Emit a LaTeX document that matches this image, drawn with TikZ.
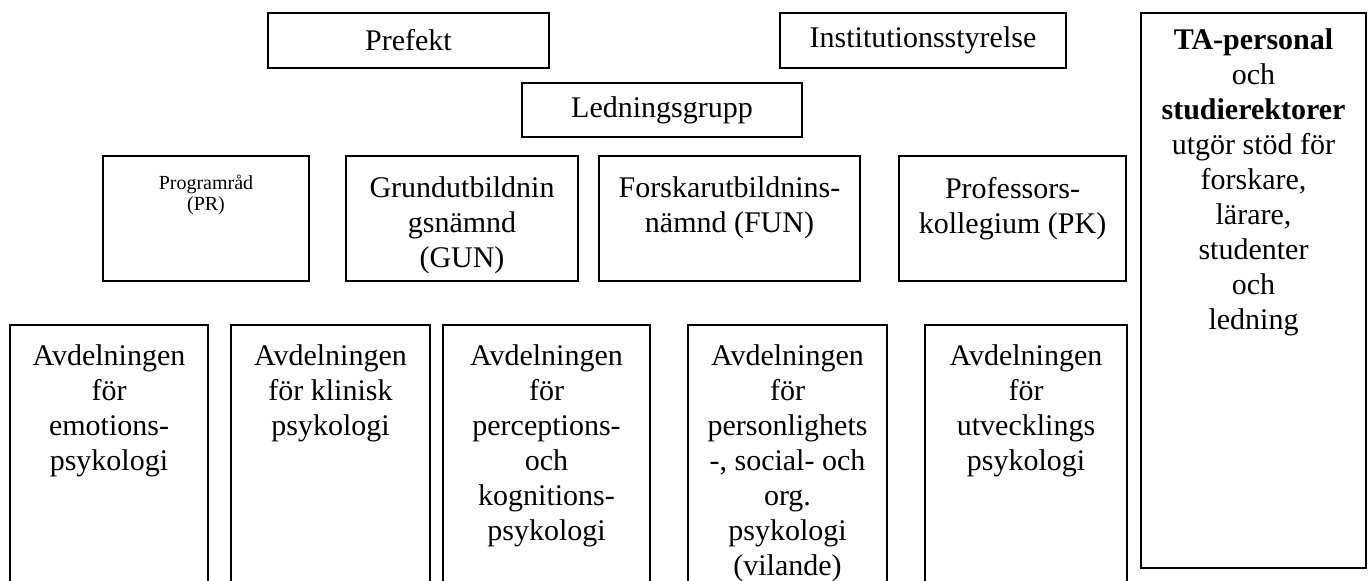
\documentclass[tikz,border=0pt]{standalone}
\usepackage{fontspec}
\setmainfont{Liberation Serif}
\usetikzlibrary{positioning,fit}
\tikzset{
  box/.style={draw, line width=0.7pt, inner sep=0pt},
  txt/.style={align=center, inner sep=0pt, font=\fontsize{12}{14}\selectfont},
  smalltxt/.style={align=center, inner sep=0pt, font=\fontsize{8}{8.5}\selectfont},
}
\begin{document}
\begin{tikzpicture}[x=0.4pt,y=-0.4pt]
  \clip (0,0) rectangle (1371,580);
  % ledning
  \node[box, fit={(268,13) (549,68)}] (prefekt) {};
  \node[txt] (prefekttxt) at (prefekt.center) {Prefekt};
  \node[box, fit={(780,13) (1066,68)}] (styrelse) {};
  \node[txt] (styrelsetxt) at (styrelse.center) {Institutionsstyrelse};
  \node[box, fit={(522,83) (802,137)}] (ledning) {};
  \node[txt] (ledningtxt) at (ledning.center) {Ledningsgrupp};
  % stöd
  \node[box, fit={(1141,13) (1366,568)}] (ta) {};
  \node[txt, below=6.6pt of ta.north] (tatxt) {\textbf{TA-personal}\\och\\\textbf{studierektorer}\\utgör stöd för\\forskare,\\lärare,\\studenter\\och\\ledning};
  % nämnder
  \node[box, fit={(103,156) (309,281)}] (pr) {};
  \node[smalltxt, below=7.7pt of pr.north] (prtxt) {Programråd\\(PR)};
  \node[box, fit={(346,156) (578,281)}] (gun) {};
  \node[txt, below=8.5pt of gun.north] (guntxt) {Grundutbildnin\\gsnämnd\\(GUN)};
  \node[box, fit={(599,156) (860,281)}] (fun) {};
  \node[txt, below=8.5pt of fun.north] (funtxt) {Forskarutbildnins-\\nämnd (FUN)};
  \node[box, fit={(899,156) (1126,281)}] (pk) {};
  \node[txt, below=8.5pt of pk.north] (pktxt) {Professors-\\kollegium (PK)};
  % avdelningar
  \node[box, fit={(10,325) (208,600)}] (emo) {};
  \node[txt, below=8pt of emo.north] (emotxt) {Avdelningen\\för\\emotions-\\psykologi};
  \node[box, fit={(231,325) (430,600)}] (klin) {};
  \node[txt, below=8pt of klin.north] (klintxt) {Avdelningen\\för klinisk\\psykologi};
  \node[box, fit={(443,325) (650,600)}] (perc) {};
  \node[txt, below=8pt of perc.north] (perctxt) {Avdelningen\\för\\perceptions-\\och\\kognitions-\\psykologi};
  \node[box, fit={(688,325) (887,600)}] (pers) {};
  \node[txt, below=8pt of pers.north] (perstxt) {Avdelningen\\för\\personlighets\\-, social- och\\org.\\psykologi\\(vilande)};
  \node[box, fit={(925,325) (1127,600)}] (utv) {};
  \node[txt, below=8pt of utv.north] (utvtxt) {Avdelningen\\för\\utvecklings\\psykologi};
\end{tikzpicture}
\end{document}
